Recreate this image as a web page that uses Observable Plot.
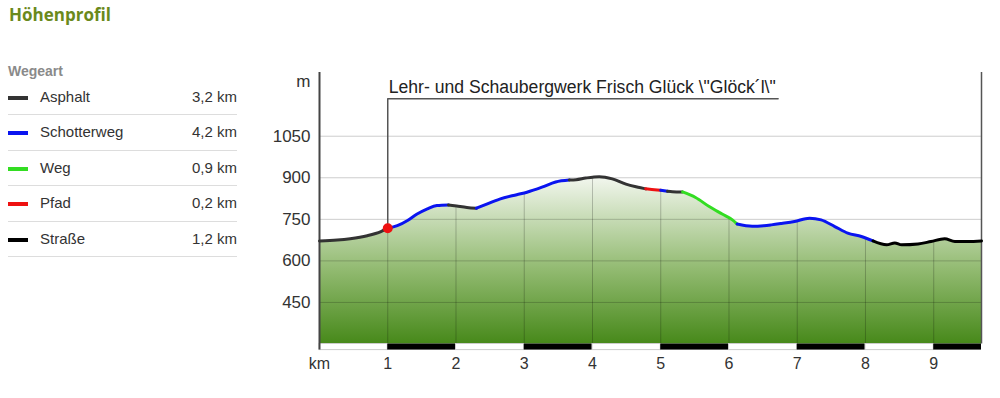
<!DOCTYPE html>
<html>
<head>
<meta charset="utf-8">
<script src="https://cdn.jsdelivr.net/npm/d3@7"></script>
<script src="https://cdn.jsdelivr.net/npm/@observablehq/plot@0.6"></script>
<style>
  body { margin:0; background:#fff; width:1000px; height:398px; overflow:hidden; position:relative;
         font-family:"Liberation Sans", Arial, sans-serif; color:#333; }
  #title { position:absolute; left:9px; top:3px; font:700 17px "Open Sans", sans-serif; color:#6a891c; }
  #legend { position:absolute; left:8px; top:62px; width:229px; }
  #legend .head { font:700 14px "Liberation Sans", Arial, sans-serif; color:#8a8a8a; height:18px; line-height:18px; }
  #legend .row { position:relative; height:34.4px; border-bottom:1px solid #ddd; font-size:15px; }
  #legend .sw { position:absolute; left:0; top:16px; width:20px; height:4px; }
  #legend .nm { position:absolute; left:32px; top:8px; }
  #legend .val { position:absolute; right:0; top:8px; }
  #chart { position:absolute; left:250px; top:50px; }
</style>
</head>
<body>
<div id="title">Höhenprofil</div>
<div id="legend"><div class="head">Wegeart</div></div>
<div id="chart"></div>
<script>
// ---- data ----
const legendNames   = ["Asphalt", "Schotterweg", "Weg", "Pfad", "Straße"];
const legendColors  = ["#333333", "#0a14f0", "#33dd22", "#ee1111", "#000000"];
const legendLengths = ["3,2 km", "4,2 km", "0,9 km", "0,2 km", "1,2 km"];

const distKm = [0, 0.26, 0.45, 0.7, 0.9, 1.0, 1.14, 1.29, 1.43, 1.58, 1.72, 1.89, 2.01, 2.16, 2.30, 2.45, 2.64, 2.89, 3.04, 3.26, 3.46, 3.66, 3.76, 3.9, 4.1, 4.29, 4.49, 4.69, 4.78, 4.84, 5.0, 5.1, 5.17, 5.32, 5.51, 5.71, 5.9, 6.05, 6.12, 6.34, 6.51, 6.62, 6.77, 6.96, 7.18, 7.35, 7.55, 7.74, 7.94, 8.11, 8.31, 8.43, 8.53, 8.77, 8.96, 9.16, 9.31, 9.5, 9.7];
const elevM  = [672, 675, 680, 691, 706, 718, 727, 746, 769, 788, 800, 802, 798, 793, 790, 805, 823, 839, 848, 866, 885, 892, 893, 899, 904, 896, 877, 865, 860, 859, 855, 851, 850, 849, 829, 796, 769, 748, 733, 725, 727, 730, 735, 742, 754, 748, 724, 700, 688, 672, 658, 665, 658, 661, 670, 680, 670, 670, 672];

const segStart = [0, 1.0, 1.89, 2.30, 3.66, 4.78, 5.0, 5.1, 5.32, 6.12, 8.11];
const segEnd   = [1.0, 1.89, 2.30, 3.66, 4.78, 5.0, 5.1, 5.32, 6.12, 8.11, 9.7];
const segType  = ["Asphalt", "Schotterweg", "Asphalt", "Schotterweg", "Asphalt", "Pfad", "Schotterweg", "Asphalt", "Weg", "Schotterweg", "Straße"];

const yTicks = [450, 600, 750, 900, 1050];
const xTicks = [1, 2, 3, 4, 5, 6, 7, 8, 9];
const bandStart = [0, 1, 2, 3, 4, 5, 6, 7, 8, 9];
const bandEnd   = [1, 2, 3, 4, 5, 6, 7, 8, 9, 9.7];
const bandFill  = ["white", "black", "white", "black", "white", "black", "white", "black", "white", "black"];

const poiKm = 1.0;
const poiElev = 718;
const poiTopElev = 1185;
const poiBracketEndKm = 6.72;
const poiLabel = "Lehr- und Schaubergwerk Frisch Glück \\\"Glöck´l\\\"";

const totalKm = 9.7;
const yMin = 300, yMax = 1280;

// ---- legend ----
const leg = d3.select("#legend");
legendNames.forEach((n, i) => {
  const r = leg.append("div").attr("class", "row");
  r.append("div").attr("class", "sw").style("background", legendColors[i]);
  r.append("div").attr("class", "nm").text(n);
  r.append("div").attr("class", "val").text(legendLengths[i]);
});

// ---- tables ----
const profile = distKm.map((k, i) => ({km: k, elev: elevM[i]}));
const lineData = segStart.flatMap((s, j) =>
  profile.filter(p => p.km >= s - 1e-9 && p.km <= segEnd[j] + 1e-9)
         .map(p => ({...p, seg: j, type: segType[j]})));
const bands = bandStart.map((s, i) => ({x1: s, x2: bandEnd[i], fill: bandFill[i]}));
const poiPath = [{km: poiKm, elev: poiElev}, {km: poiKm, elev: poiTopElev}, {km: poiBracketEndKm, elev: poiTopElev}];

const chart = Plot.plot({
  width: 750, height: 348,
  marginLeft: 69, marginRight: 19, marginTop: 22, marginBottom: 54.5,
  style: {fontFamily: "'Liberation Sans', Arial, sans-serif", fontSize: "16px", color: "#333", background: "transparent", overflow: "visible"},
  x: {domain: [0, totalKm], axis: null},
  y: {domain: [yMin, yMax], axis: null},
  color: {domain: legendNames, range: legendColors},
  marks: [
    Plot.areaY(profile, {x: "km", y1: yMin, y2: "elev", fill: "url(#hgrad)", curve: "monotone-x"}),
    Plot.ruleX(xTicks, {y1: yMin, y2: yMax, stroke: "#000", strokeOpacity: 0.22}),
    Plot.areaY(profile, {x: "km", y1: "elev", y2: yMax, fill: "white", curve: "monotone-x"}),
    Plot.ruleY(yTicks, {stroke: "#000", strokeOpacity: 0.2}),
    Plot.ruleX([totalKm], {y1: yMin, y2: yMax, stroke: "#555", strokeWidth: 1.5}),
    Plot.rect(bands, {x1: "x1", x2: "x2", y1: yMin, y2: yMin - 22, fill: "fill", stroke: d => d.fill === "white" ? "#ccc" : "none"}),
    Plot.ruleX([0], {y1: yMin - 22, y2: yMax, stroke: "#444", strokeWidth: 2}),
    Plot.line(poiPath, {x: "km", y: "elev", stroke: "#555", strokeWidth: 1.5}),
    Plot.text([poiLabel], {x: poiKm, y: poiTopElev, text: d => d, dx: 1, dy: -6, textAnchor: "start", lineAnchor: "bottom", fontSize: 17.6, fill: "#222"}),
    Plot.line(lineData, {x: "km", y: "elev", z: "seg", stroke: "type", strokeWidth: 3, curve: "monotone-x"}),
    Plot.dot([{km: poiKm, elev: poiElev}], {x: "km", y: "elev", r: 5, fill: "#ee1111"}),
    Plot.text(yTicks, {x: 0, y: d => d, text: d => String(d), dx: -9, textAnchor: "end", fontSize: 17, fill: "#333"}),
    Plot.text(["m"], {frameAnchor: "top-left", text: d => d, dx: -9, dy: 9, textAnchor: "end", lineAnchor: "middle", fontSize: 17, fill: "#333"}),
    Plot.text(xTicks, {x: d => d, frameAnchor: "bottom", text: d => String(d), dy: 24.5, fontSize: 16, fill: "#333"}),
    Plot.text(["km"], {x: 0, frameAnchor: "bottom", text: d => d, dy: 24.5, fontSize: 16, fill: "#333"})
  ]
});

const defs = d3.select(chart).insert("defs", ":first-child");
const g = defs.append("linearGradient").attr("id", "hgrad").attr("x1", 0).attr("y1", 0).attr("x2", 0).attr("y2", 1);
g.append("stop").attr("offset", "0%").attr("stop-color", "#f3f7ef");
g.append("stop").attr("offset", "55%").attr("stop-color", "#93bb72");
g.append("stop").attr("offset", "100%").attr("stop-color", "#47891a");

document.getElementById("chart").appendChild(chart);
</script>
</body>
</html>
